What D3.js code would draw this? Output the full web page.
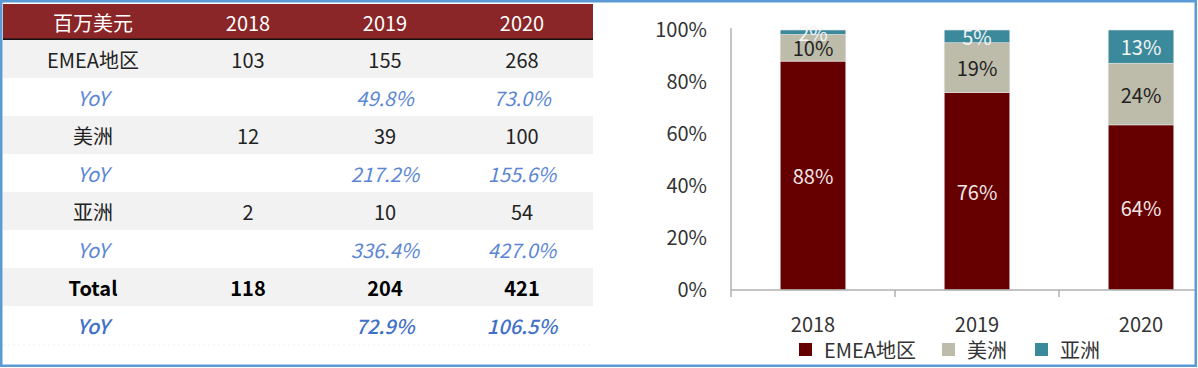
<!DOCTYPE html>
<html><head><meta charset="utf-8">
<script src="https://cdn.jsdelivr.net/npm/d3@7"></script>
<style>
html,body{margin:0;padding:0;background:#fff;}
svg{display:block;font-family:"Noto Sans CJK SC","Noto Sans",sans-serif;}
</style></head>
<body><svg id="c" width="1198" height="368"></svg>
<script>
// ---- data ----
const categories = ["2018", "2019", "2020"];
const seriesNames = ["EMEA地区", "美洲", "亚洲"];
const emeaValues = [103, 155, 268];
const americasValues = [12, 39, 100];
const asiaValues = [2, 10, 54];
const totalValues = [118, 204, 421];
const emeaYoY = ["", "49.8%", "73.0%"];
const americasYoY = ["", "217.2%", "155.6%"];
const asiaYoY = ["", "336.4%", "427.0%"];
const totalYoY = ["", "72.9%", "106.5%"];
const headerLabel = "百万美元";
const yoyLabel = "YoY";
const totalLabel = "Total";
const yTickValues = [0, 0.2, 0.4, 0.6, 0.8, 1.0];

const svg = d3.select("#c");

// ---- table ----
const rows = [
  {label: seriesNames[0], vals: emeaValues, kind: "val"},
  {label: yoyLabel, vals: emeaYoY, kind: "yoy"},
  {label: seriesNames[1], vals: americasValues, kind: "val"},
  {label: yoyLabel, vals: americasYoY, kind: "yoy"},
  {label: seriesNames[2], vals: asiaValues, kind: "val"},
  {label: yoyLabel, vals: asiaYoY, kind: "yoy"},
  {label: totalLabel, vals: totalValues, kind: "total"},
  {label: yoyLabel, vals: totalYoY, kind: "totalyoy"}
];
const tX0 = 3, tX1 = 593, headTop = 4, headBot = 39, rowH = 38;
const colX = [93, 248, 385, 522];
const tbl = svg.append("g");
tbl.append("rect").attr("x", tX0).attr("y", headTop).attr("width", tX1 - tX0).attr("height", headBot - headTop).attr("fill", "#8a2528");
tbl.append("rect").attr("x", tX0).attr("y", headBot - 0.5).attr("width", tX1 - tX0).attr("height", 1.8).attr("fill", "#111");
const hdr = [headerLabel].concat(categories);
tbl.selectAll("text.h").data(hdr).join("text").attr("class", "h")
  .attr("x", (d, i) => colX[i]).attr("y", (headTop + headBot) / 2 + 1)
  .attr("text-anchor", "middle").attr("dominant-baseline", "central")
  .attr("fill", "#fff").attr("font-size", 20).text(d => d);
const rowTop = i => headBot + 1 + i * rowH;
rows.forEach((r, i) => {
  const y0 = rowTop(i);
  if (i % 2 === 0) tbl.append("rect").attr("x", tX0).attr("y", y0).attr("width", tX1 - tX0).attr("height", rowH).attr("fill", "#f2f2f2");
  const cells = [r.label].concat(r.vals.map(String));
  const isYoy = r.kind === "yoy" || r.kind === "totalyoy";
  tbl.selectAll(null).data(cells).join("text")
    .attr("x", (d, j) => colX[j]).attr("y", y0 + rowH / 2)
    .attr("text-anchor", "middle").attr("dominant-baseline", "central")
    .attr("font-size", 20)
    .attr("font-style", isYoy ? "italic" : "normal")
    .attr("font-weight", (r.kind === "total") ? 700 : (r.kind === "totalyoy" ? 500 : 400))
    .attr("fill", isYoy ? (r.kind === "totalyoy" ? "#4070c8" : "#5b86d4") : (r.kind === "total" ? "#000" : "#222"))
    .text(d => d);
});
tbl.append("line").attr("x1", tX0).attr("x2", tX1).attr("y1", 345).attr("y2", 345)
  .attr("stroke", "#f0f0f0").attr("stroke-width", 1).attr("stroke-dasharray", "2,3");

// ---- chart ----
const colors = ["#660000", "#bdbba9", "#3b8a9c"];
const labelColors = ["#f2e6e6", "#222", "#f4f4f4"];
const data = categories.map((c, i) => ({cat: c, [seriesNames[0]]: emeaValues[i], [seriesNames[1]]: americasValues[i], [seriesNames[2]]: asiaValues[i]}));
const stack = d3.stack().keys(seriesNames).offset(d3.stackOffsetExpand);
const layers = stack(data);

const axX0 = 731, step = 164;
const x = d3.scaleBand().domain(categories).range([axX0, axX0 + step * categories.length]).paddingInner(0.6).paddingOuter(0.3);
const y = d3.scaleLinear().domain([0, 1]).range([290, 30]);
const fmt = d3.format(".0%");

const ch = svg.append("g");
layers.forEach((layer, k) => {
  ch.selectAll(null).data(layer).join("rect")
    .attr("x", d => x(d.data.cat)).attr("width", x.bandwidth())
    .attr("y", d => y(d[1])).attr("height", d => y(d[0]) - y(d[1]))
    .attr("fill", colors[k]).attr("stroke", "#e8e2e2").attr("stroke-width", 0.6);
});
layers.forEach((layer, k) => {
  ch.selectAll(null).data(layer).join("text")
    .attr("x", d => x(d.data.cat) + x.bandwidth() / 2)
    .attr("y", d => (y(d[0]) + y(d[1])) / 2)
    .attr("text-anchor", "middle").attr("dominant-baseline", "central")
    .attr("font-size", 20).attr("fill", labelColors[k])
    .text(d => fmt(d[1] - d[0]));
});

// y axis
const yAxis = d3.axisLeft(y).tickValues(yTickValues).tickFormat(d3.format(".0%")).tickSize(0).tickPadding(24);
const ya = ch.append("g").attr("transform", `translate(${axX0},0)`).call(yAxis);
ya.select(".domain").attr("stroke", "#b0b0b0").attr("stroke-width", 1.5).attr("d", `M0,${y(1) - 2}V${y(0)}`);
ya.selectAll("text").attr("font-size", 20).attr("fill", "#333").attr("font-family", "Noto Sans CJK SC");

// x axis
const xa = ch.append("g");
xa.append("line").attr("x1", axX0).attr("x2", 1195).attr("y1", y(0)).attr("y2", y(0)).attr("stroke", "#b0b0b0").attr("stroke-width", 1.5);
const bounds = categories.map(c => x(c) - x.step() * x.paddingOuter() * 0 - (x.step() - x.bandwidth()) / 2 - (categories.indexOf(c) === 0 ? x.step() * 0 : 0));
const tickXs = categories.map((c, i) => axX0 + i * x.step() + (x.range()[1] - x.range()[0] - x.step() * categories.length) / 2);
xa.selectAll(null).data(tickXs).join("line")
  .attr("x1", d => d).attr("x2", d => d).attr("y1", y(0)).attr("y2", y(0) + 7)
  .attr("stroke", "#b0b0b0").attr("stroke-width", 1.5);
xa.selectAll(null).data(categories).join("text")
  .attr("x", d => x(d) + x.bandwidth() / 2).attr("y", 323)
  .attr("text-anchor", "middle").attr("dominant-baseline", "central")
  .attr("font-size", 20).attr("fill", "#333").text(d => d);

// legend
const legX = [799, 942, 1035];
const lg = svg.append("g");
seriesNames.forEach((s, i) => {
  lg.append("rect").attr("x", legX[i]).attr("y", 343).attr("width", 13).attr("height", 13).attr("fill", colors[i]);
  lg.append("text").attr("x", legX[i] + 25).attr("y", 349).attr("dominant-baseline", "central")
    .attr("font-size", 20).attr("fill", "#333").text(s);
});

// frame
svg.append("rect").attr("x", 1.25).attr("y", 1.25).attr("width", 1194.5).attr("height", 364.5)
  .attr("fill", "none").attr("stroke", "#5b9bd5").attr("stroke-width", 2.5);
</script></body></html>
